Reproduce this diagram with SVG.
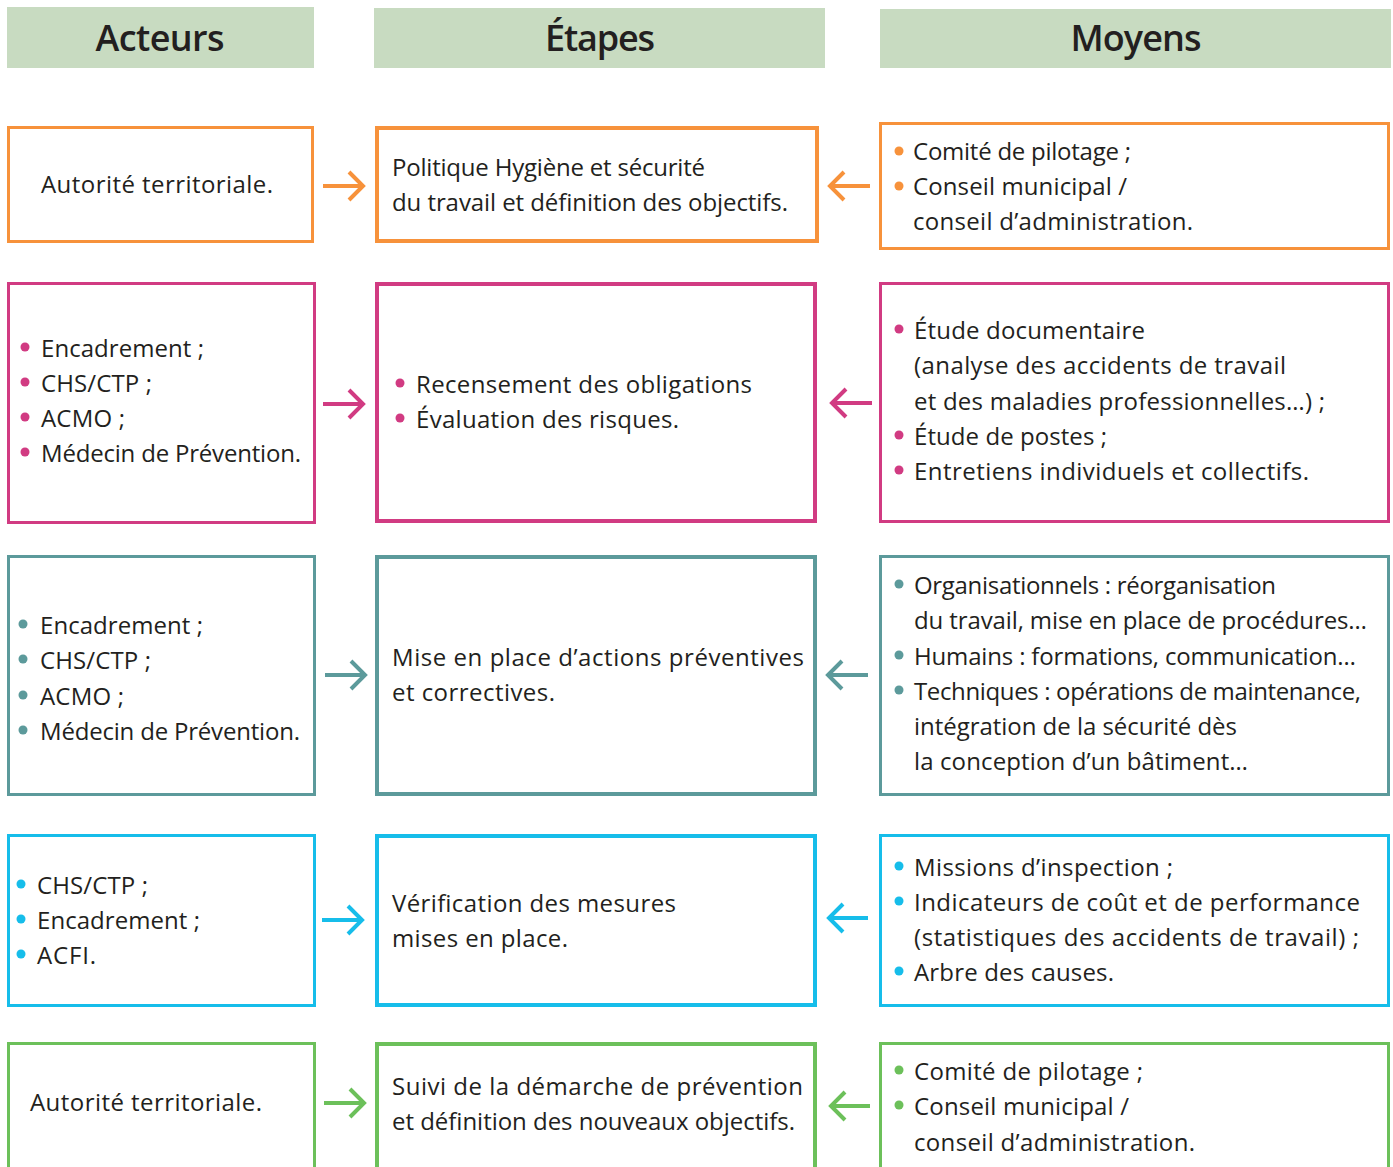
<svg xmlns="http://www.w3.org/2000/svg" width="1393" height="1167" viewBox="0 0 1393 1167">
<style>
  text { font-family: "Open Sans", "Noto Sans", "Liberation Sans", sans-serif; fill: #231f20; }
  .t { font-size: 24px; }
  .h { font-size: 36px; font-weight: 600; text-anchor: middle; }
  .hdr { fill: #c8dbc1; }
  .box { fill: #ffffff; stroke-width: 3; }
  .mid { stroke-width: 4; }
  .arr { fill: none; stroke-width: 4; }
  .o { stroke: #f7923b; } .of { fill: #f7923b; }
  .m { stroke: #d13b82; } .mf { fill: #d13b82; }
  .tl { stroke: #5c9a9b; } .tf { fill: #5c9a9b; }
  .c { stroke: #16bdea; } .cf { fill: #16bdea; }
  .g { stroke: #6cc05a; } .gf { fill: #6cc05a; }
</style>
<rect width="1393" height="1167" fill="#ffffff"/>

<g id="headers">
  <g id="h-acteurs"><rect class="hdr" x="7" y="7" width="307" height="61"/><text class="h" x="160" y="51" textLength="129">Acteurs</text></g>
  <g id="h-etapes"><rect class="hdr" x="374" y="8" width="451" height="60"/><text class="h" x="600" y="51" textLength="110">Étapes</text></g>
  <g id="h-moyens"><rect class="hdr" x="880" y="9" width="511" height="59"/><text class="h" x="1136" y="51" textLength="131">Moyens</text></g>
</g>

<!-- Row 1 orange -->
<g id="r1-acteurs"><rect class="box o" x="8.5" y="127.5" width="304" height="114"/>
  <text class="t" x="41" y="193" textLength="232">Autorité territoriale.</text></g>
<g id="r1-etape"><rect class="box mid o" x="377" y="128" width="440" height="113"/>
  <text class="t" x="392" y="176" textLength="313">Politique Hygiène et sécurité</text>
  <text class="t" x="392" y="211" textLength="396">du travail et définition des objectifs.</text></g>
<g id="r1-moyens"><rect class="box o" x="880.5" y="123.5" width="508" height="125"/>
  <circle class="of" cx="899" cy="151" r="4.5"/><text class="t" x="913" y="160" textLength="218">Comité de pilotage ;</text>
  <circle class="of" cx="899" cy="186" r="4.5"/><text class="t" x="913" y="195" textLength="214">Conseil municipal /</text>
  <text class="t" x="913" y="230" textLength="280">conseil d’administration.</text></g>

<!-- Row 2 magenta -->
<g id="r2-acteurs"><rect class="box m" x="8.5" y="283.5" width="306" height="239"/>
  <circle class="mf" cx="25" cy="347" r="4.5"/><text class="t" x="41" y="357" textLength="163">Encadrement ;</text>
  <circle class="mf" cx="25" cy="382" r="4.5"/><text class="t" x="41" y="392" textLength="111">CHS/CTP ;</text>
  <circle class="mf" cx="25" cy="417" r="4.5"/><text class="t" x="41" y="427" textLength="84">ACMO ;</text>
  <circle class="mf" cx="25" cy="452" r="4.5"/><text class="t" x="41" y="462" textLength="260">Médecin de Prévention.</text></g>
<g id="r2-etape"><rect class="box mid m" x="377" y="284" width="438" height="237"/>
  <circle class="mf" cx="400" cy="383" r="4.5"/><text class="t" x="416" y="393" textLength="336">Recensement des obligations</text>
  <circle class="mf" cx="400" cy="418" r="4.5"/><text class="t" x="416" y="428" textLength="263">Évaluation des risques.</text></g>
<g id="r2-moyens"><rect class="box m" x="880.5" y="283.5" width="508" height="238"/>
  <circle class="mf" cx="899" cy="329" r="4.5"/><text class="t" x="914" y="339" textLength="231">Étude documentaire</text>
  <text class="t" x="914" y="374" textLength="372">(analyse des accidents de travail</text>
  <text class="t" x="914" y="410" textLength="411">et des maladies professionnelles…) ;</text>
  <circle class="mf" cx="899" cy="435" r="4.5"/><text class="t" x="914" y="445" textLength="193">Étude de postes ;</text>
  <circle class="mf" cx="899" cy="470" r="4.5"/><text class="t" x="914" y="480" textLength="395">Entretiens individuels et collectifs.</text></g>

<!-- Row 3 teal -->
<g id="r3-acteurs"><rect class="box tl" x="8.5" y="556.5" width="306" height="238"/>
  <circle class="tf" cx="23" cy="624" r="4.5"/><text class="t" x="40" y="634" textLength="163">Encadrement ;</text>
  <circle class="tf" cx="23" cy="659" r="4.5"/><text class="t" x="40" y="669" textLength="111">CHS/CTP ;</text>
  <circle class="tf" cx="23" cy="695" r="4.5"/><text class="t" x="40" y="705" textLength="84">ACMO ;</text>
  <circle class="tf" cx="23" cy="730" r="4.5"/><text class="t" x="40" y="740" textLength="260">Médecin de Prévention.</text></g>
<g id="r3-etape"><rect class="box mid tl" x="377" y="557" width="438" height="237"/>
  <text class="t" x="392" y="666" textLength="412">Mise en place d’actions préventives</text>
  <text class="t" x="392" y="701" textLength="163">et correctives.</text></g>
<g id="r3-moyens"><rect class="box tl" x="880.5" y="556.5" width="508" height="238"/>
  <circle class="tf" cx="899" cy="584" r="4.5"/><text class="t" x="914" y="594" textLength="362">Organisationnels : réorganisation</text>
  <text class="t" x="914" y="629" textLength="453">du travail, mise en place de procédures…</text>
  <circle class="tf" cx="899" cy="655" r="4.5"/><text class="t" x="914" y="665" textLength="442">Humains : formations, communication…</text>
  <circle class="tf" cx="899" cy="690" r="4.5"/><text class="t" x="914" y="700" textLength="447">Techniques : opérations de maintenance,</text>
  <text class="t" x="914" y="735" textLength="323">intégration de la sécurité dès</text>
  <text class="t" x="914" y="770" textLength="334">la conception d’un bâtiment…</text></g>

<!-- Row 4 cyan -->
<g id="r4-acteurs"><rect class="box c" x="8.5" y="835.5" width="306" height="170"/>
  <circle class="cf" cx="21" cy="884" r="4.5"/><text class="t" x="37" y="894" textLength="111">CHS/CTP ;</text>
  <circle class="cf" cx="21" cy="919" r="4.5"/><text class="t" x="37" y="929" textLength="163">Encadrement ;</text>
  <circle class="cf" cx="21" cy="954" r="4.5"/><text class="t" x="37" y="964" textLength="59">ACFI.</text></g>
<g id="r4-etape"><rect class="box mid c" x="377" y="836" width="438" height="169"/>
  <text class="t" x="392" y="912" textLength="284">Vérification des mesures</text>
  <text class="t" x="392" y="947" textLength="176">mises en place.</text></g>
<g id="r4-moyens"><rect class="box c" x="880.5" y="835.5" width="508" height="170"/>
  <circle class="cf" cx="899" cy="866" r="4.5"/><text class="t" x="914" y="876" textLength="259">Missions d’inspection ;</text>
  <circle class="cf" cx="899" cy="901" r="4.5"/><text class="t" x="914" y="911" textLength="446">Indicateurs de coût et de performance</text>
  <text class="t" x="914" y="946" textLength="445">(statistiques des accidents de travail) ;</text>
  <circle class="cf" cx="899" cy="971" r="4.5"/><text class="t" x="914" y="981" textLength="200">Arbre des causes.</text></g>

<!-- Row 5 green -->
<g id="r5-acteurs"><rect class="box g" x="8.5" y="1043.5" width="306" height="130"/>
  <text class="t" x="30" y="1111" textLength="232">Autorité territoriale.</text></g>
<g id="r5-etape"><rect class="box mid g" x="377" y="1044" width="438" height="130"/>
  <text class="t" x="392" y="1095" textLength="411">Suivi de la démarche de prévention</text>
  <text class="t" x="392" y="1130" textLength="403">et définition des nouveaux objectifs.</text></g>
<g id="r5-moyens"><rect class="box g" x="880.5" y="1043.5" width="508" height="130"/>
  <circle class="gf" cx="899" cy="1070" r="4.5"/><text class="t" x="914" y="1080" textLength="229">Comité de pilotage ;</text>
  <circle class="gf" cx="899" cy="1105" r="4.5"/><text class="t" x="914" y="1115" textLength="215">Conseil municipal /</text>
  <text class="t" x="914" y="1151" textLength="281">conseil d’administration.</text></g>

<g id="connectors">
  <g class="arr o"><path d="M323 186 H362 M349 172 L363 186 L349 200"/><path d="M870 186 H831 M844 172 L830 186 L844 200"/></g>
  <g class="arr m"><path d="M323 404 H362 M349 390 L363 404 L349 418"/><path d="M872 403 H833 M846 389 L832 403 L846 417"/></g>
  <g class="arr tl"><path d="M325 675 H364 M351 661 L365 675 L351 689"/><path d="M868 675 H829 M842 661 L828 675 L842 689"/></g>
  <g class="arr c"><path d="M322 920 H361 M348 906 L362 920 L348 934"/><path d="M868 918 H830 M843 904 L829 918 L843 932"/></g>
  <g class="arr g"><path d="M324 1103 H363 M350 1089 L364 1103 L350 1117"/><path d="M870 1106 H832 M845 1092 L831 1106 L845 1120"/></g>
</g>
</svg>
